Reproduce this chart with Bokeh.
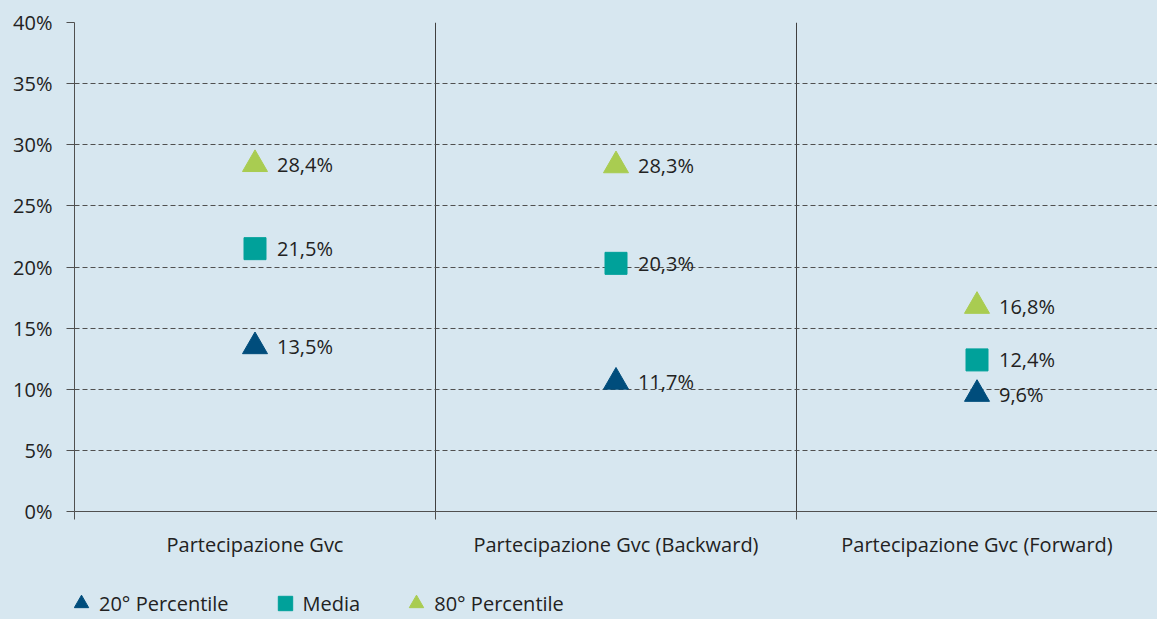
from bokeh.plotting import figure
from bokeh.layouts import column
from bokeh.models import (Range1d, FixedTicker, LinearAxis, Legend, LegendItem,
                          PrintfTickFormatter)
from bokeh.core.properties import value
from bokeh.embed import file_html
from bokeh.resources import INLINE

# ---- data -----------------------------------------------------------
categories = ["Partecipazione Gvc", "Partecipazione Gvc (Backward)", "Partecipazione Gvc (Forward)"]
p20_values = [13.5, 10.6, 9.6]
p20_labels = ["13,5%", "11,7%", "9,6%"]
media_values = [21.5, 20.3, 12.4]
media_labels = ["21,5%", "20,3%", "12,4%"]
p80_values = [28.4, 28.3, 16.8]
p80_labels = ["28,4%", "28,3%", "16,8%"]
y_ticks = [0, 5, 10, 15, 20, 25, 30, 35, 40]
series_names = ["20° Percentile", "Media", "80° Percentile"]

# ---- styling --------------------------------------------------------
BG = "#d7e7f0"
DARK_BLUE = "#004d7c"
TEAL = "#00a19a"
GREEN = "#a9cc51"
TEXT = "#222222"
FONT = "Open Sans"
FS = "20px"
W = 1157
H_MAIN = 569
H_LEG = 50

cat_pos = [i + 0.5 for i in range(len(categories))]
bounds = list(range(len(categories) + 1))

p = figure(width=W, height=H_MAIN, x_range=Range1d(0, len(categories)), y_range=Range1d(0, 40),
           output_backend="svg", toolbar_location=None,
           min_border_left=74, min_border_right=0, min_border_top=22, min_border_bottom=58,
           background_fill_color=BG, border_fill_color=BG, outline_line_color=None)

# y axis
p.yaxis.ticker = FixedTicker(ticks=y_ticks)
p.yaxis.formatter = PrintfTickFormatter(format="%d%%")
p.yaxis.axis_line_color = "#505050"
p.yaxis.major_tick_line_color = "#505050"
p.yaxis.major_tick_out = 8
p.yaxis.major_tick_in = 0
p.yaxis.minor_tick_line_color = None
p.yaxis.major_label_standoff = 14
p.yaxis.major_label_text_font = FONT
p.yaxis.major_label_text_font_size = FS
p.yaxis.major_label_text_color = TEXT

# x axis (boundary ticks only)
p.xaxis.ticker = FixedTicker(ticks=bounds)
p.xaxis.major_label_overrides = {b: "" for b in bounds}
p.xaxis.major_label_standoff = 0
p.xaxis.axis_line_color = "#505050"
p.xaxis.major_tick_line_color = "#505050"
p.xaxis.major_tick_out = 8
p.xaxis.major_tick_in = 0
p.xaxis.minor_tick_line_color = None

# category label axis
cat_axis = LinearAxis(ticker=FixedTicker(ticks=cat_pos),
                      major_label_overrides={cp: c for cp, c in zip(cat_pos, categories)},
                      axis_line_color=None, major_tick_line_color=None, minor_tick_line_color=None,
                      major_tick_out=0, major_tick_in=0,
                      major_label_standoff=11, major_label_text_font=FONT,
                      major_label_text_font_size=FS, major_label_text_color=TEXT)
p.add_layout(cat_axis, "below")

# grids
p.xgrid.ticker = FixedTicker(ticks=bounds[1:-1])
p.xgrid.grid_line_color = "#404040"
p.xgrid.grid_line_width = 1
p.ygrid.ticker = FixedTicker(ticks=y_ticks[1:])
p.ygrid.grid_line_color = "#505050"
p.ygrid.grid_line_dash = "5 3"
p.ygrid.grid_line_width = 1

# markers
r20 = p.scatter(cat_pos, p20_values, marker="triangle", size=25, fill_color=DARK_BLUE, line_color=DARK_BLUE)
rmed = p.scatter(cat_pos, media_values, marker="square", size=22, fill_color=TEAL, line_color=TEAL)
r80 = p.scatter(cat_pos, p80_values, marker="triangle", size=25, fill_color=GREEN, line_color=GREEN)

for vals, labs in [(p20_values, p20_labels), (media_values, media_labels), (p80_values, p80_labels)]:
    p.text(x=cat_pos, y=vals, text=labs, x_offset=22, text_align="left", text_baseline="middle",
           text_font=value(FONT), text_font_size=FS, text_color=TEXT)

# ---- legend strip ---------------------------------------------------
pl = figure(width=W, height=H_LEG, x_range=Range1d(0, 1), y_range=Range1d(0, 1),
            output_backend="svg", toolbar_location=None,
            min_border_left=74, min_border_right=0, min_border_top=0, min_border_bottom=0,
            background_fill_color=BG, background_fill_alpha=0, border_fill_color=BG,
            outline_line_color=None)
pl.axis.visible = False
pl.grid.visible = False
# hidden (out of range) glyphs only serve as legend swatches
l20 = pl.scatter(x=[-5], y=[-5], marker="triangle", fill_color=DARK_BLUE, line_color=DARK_BLUE)
lmed = pl.scatter(x=[-5], y=[-5], marker="square", fill_color=TEAL, line_color=TEAL)
l80 = pl.scatter(x=[-5], y=[-5], marker="triangle", fill_color=GREEN, line_color=GREEN)

legend = Legend(items=[LegendItem(label=series_names[0], renderers=[l20]),
                       LegendItem(label=series_names[1], renderers=[lmed]),
                       LegendItem(label=series_names[2], renderers=[l80])],
                orientation="horizontal", location=(-11, -2),
                glyph_width=36, glyph_height=36, label_standoff=0, spacing=38,
                padding=0, margin=0, background_fill_alpha=0, border_line_color=None,
                label_text_font=FONT, label_text_font_size=FS, label_text_color=TEXT)
pl.add_layout(legend)

layout = column(p, pl, spacing=0, styles={"background-color": BG})
open("out.html", "w").write(file_html(layout, INLINE))
